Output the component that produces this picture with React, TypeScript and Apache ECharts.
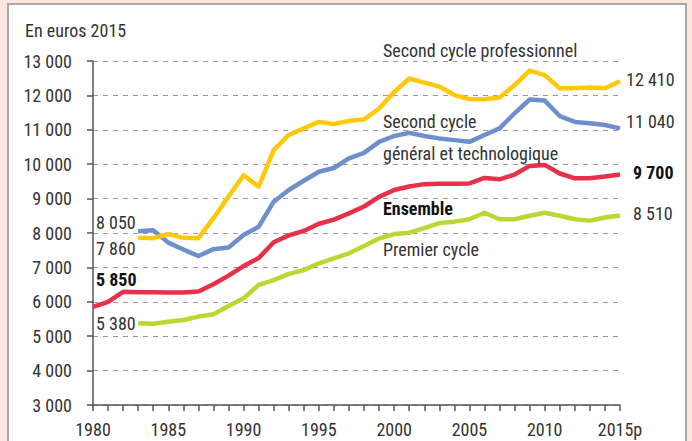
import React, { useEffect, useRef } from "react";
import * as echarts from "echarts";

const years = [1980,1981,1982,1983,1984,1985,1986,1987,1988,1989,1990,1991,1992,1993,1994,1995,1996,1997,1998,1999,2000,2001,2002,2003,2004,2005,2006,2007,2008,2009,2010,2011,2012,2013,2014,2015];

const ensemble = [5850,6000,6290,6280,6280,6270,6270,6300,6510,6760,7040,7270,7730,7930,8060,8270,8390,8570,8770,9050,9250,9350,9420,9430,9430,9440,9600,9560,9700,9950,9980,9730,9590,9590,9640,9700];
const secondGT = [null,null,null,8050,8080,7720,7520,7330,7530,7580,7940,8180,8910,9250,9520,9780,9890,10170,10330,10650,10820,10910,10820,10750,10700,10650,10850,11040,11480,11880,11850,11400,11230,11190,11140,11040];
const secondPro = [null,null,null,7860,7850,7970,7860,7850,8430,9060,9680,9350,10410,10850,11040,11230,11170,11260,11300,11620,12100,12490,12370,12260,12010,11890,11890,11940,12300,12720,12590,12210,12210,12230,12210,12410];
const premier = [null,null,null,5380,5360,5420,5470,5570,5640,5880,6100,6490,6630,6810,6920,7120,7260,7410,7620,7840,7970,8010,8140,8290,8330,8400,8590,8400,8400,8500,8590,8500,8400,8360,8450,8510];

const FONT = '"Liberation Sans Narrow", "Roboto Condensed", "Arial Narrow", "Liberation Sans", sans-serif';
const TXT = "#333333";
const FS = 18;

const fmt = (v: number) => {
  const s = String(v);
  if (s.length <= 3) return s;
  return s.slice(0, s.length - 3) + " " + s.slice(s.length - 3);
};

const pairs = (vals: (number | null)[]) => years.map((y, i) => [y, vals[i]]);

export default function App() {
  const ref = useRef<HTMLDivElement>(null);
  useEffect(() => {
    if (!ref.current) return;
    const chart = echarts.init(ref.current, undefined, { renderer: "svg" });
    const lineSeries = (name: string, vals: (number | null)[], color: string) => ({
      name,
      type: "line",
      data: pairs(vals),
      showSymbol: false,
      symbol: "none",
      connectNulls: false,
      lineStyle: { color, width: 4.5, join: "round" },
      itemStyle: { color },
      z: 3,
    });
    const t = (text: string, x: number, y: number, opts: any = {}) => ({
      type: "text",
      x,
      y,
      z: 10,
      style: {
        text,
        fill: opts.bold ? "#111" : TXT,
        font: `${opts.bold ? "bold " : ""}${opts.size || FS}px ${FONT}`,
        textAlign: opts.align || "left",
        textVerticalAlign: "middle",
      },
    });
    chart.setOption({
      animation: false,
      backgroundColor: "#fde6e0",
      graphic: [
        {
          type: "rect",
          z: -10,
          shape: { x: 8, y: 4, width: 678, height: 460 },
          style: { fill: "#ffffff", stroke: "#a8a8a8", lineWidth: 2 },
          silent: true,
        },
        t("En euros 2015", 25, 30),
        t("Second cycle professionnel", 383, 50),
        t("Second cycle", 383, 121),
        t("général et technologique", 383, 153),
        t("Ensemble", 383, 208, { bold: true }),
        t("Premier cycle", 383, 249),
        t(fmt(12410), 626, 79),
        t(fmt(11040), 626, 121),
        t(fmt(9700), 633, 172, { bold: true }),
        t(fmt(8510), 633, 213),
        t(fmt(8050), 96, 222),
        t(fmt(7860), 96, 248),
        t(fmt(5850), 96, 279, { bold: true }),
        t(fmt(5380), 96, 323),
      ],
      grid: { left: 93, right: 72, top: 61, bottom: 36, containLabel: false },
      xAxis: {
        type: "value",
        min: 1980,
        max: 2015,
        interval: 1,
        axisLine: { show: true, lineStyle: { color: "#555", width: 1.5 } },
        axisTick: { show: true, length: 6, inside: false, lineStyle: { color: "#555", width: 1.5 } },
        splitLine: { show: false },
        axisLabel: {
          color: TXT,
          fontFamily: FONT,
          fontSize: FS,
          margin: 15,
          showMinLabel: true,
          showMaxLabel: true,
          formatter: (v: number) => (v === 2015 ? "2015p" : v % 5 === 0 ? String(v) : ""),
        },
      },
      yAxis: {
        type: "value",
        min: 3000,
        max: 13000,
        interval: 1000,
        axisLine: { show: true, lineStyle: { color: "#555", width: 1.5 } },
        axisTick: { show: true, length: 6, lineStyle: { color: "#555", width: 1.5 } },
        splitLine: { show: true, lineStyle: { color: "#9a9a9a", type: [5, 5], width: 1 } },
        axisLabel: {
          color: TXT,
          fontFamily: FONT,
          fontSize: FS,
          margin: 21,
          formatter: (v: number) => fmt(v),
        },
      },
      series: [
        lineSeries("Premier cycle", premier, "#bdd631"),
        lineSeries("Ensemble", ensemble, "#e8304a"),
        lineSeries("Second cycle général et technologique", secondGT, "#6e8fcc"),
        lineSeries("Second cycle professionnel", secondPro, "#ffc90a"),
      ],
    });
    return () => chart.dispose();
  }, []);
  return (
    <div
      ref={ref}
      style={{ position: "fixed", left: 0, top: 0, width: 692, height: 441 }}
    />
  );
}
